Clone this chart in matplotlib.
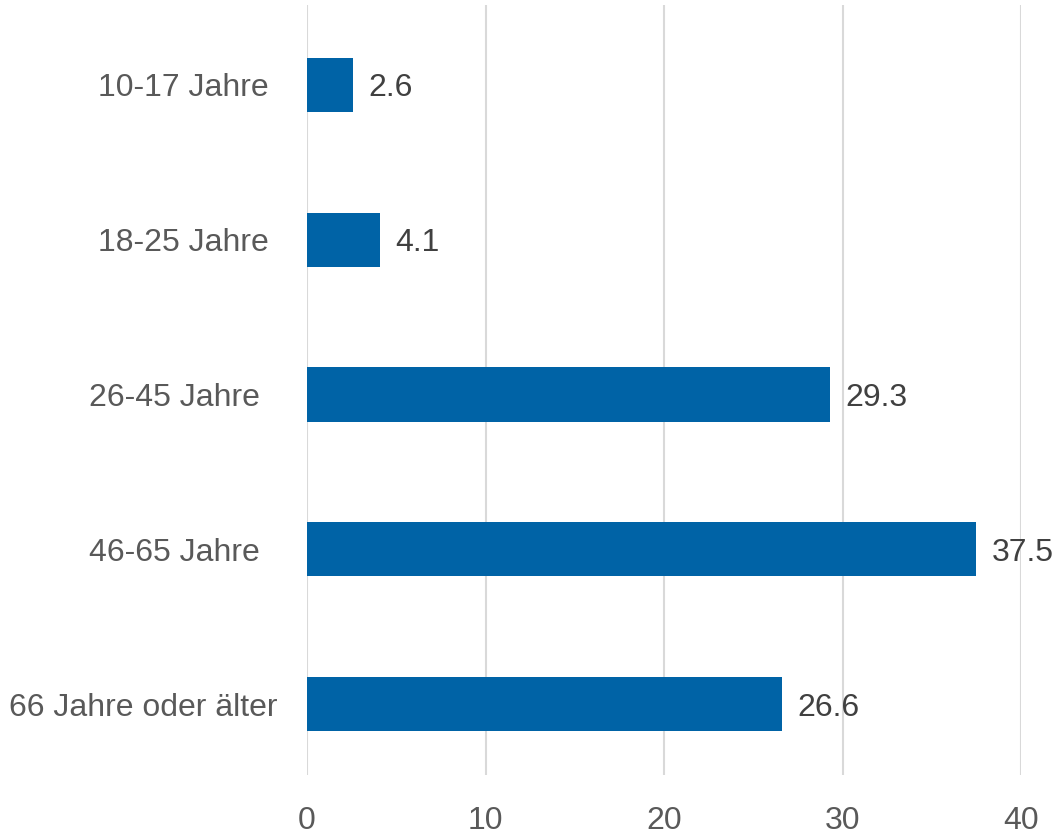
import matplotlib.pyplot as plt

categories = ["10-17 Jahre ", "18-25 Jahre ", "26-45 Jahre  ", "46-65 Jahre  ", "66 Jahre oder älter"]
values = [2.6, 4.1, 29.3, 37.5, 26.6]
xticks = [0, 10, 20, 30, 40]

plt.rcParams['font.family'] = ['Liberation Sans', 'DejaVu Sans']

fig = plt.figure(figsize=(10.58, 8.34), dpi=100)
ax = fig.add_axes([307 / 1058, 1 - 775 / 834, (1021 - 307) / 1058, 770 / 834])

pos = list(range(len(categories)))
ax.barh(pos, values, height=0.35, color='#0063A6', zorder=2)

# datenbeschriftungen
for p, v in zip(pos, values):
    ax.annotate(f"{v}", (v, p), xytext=(11, 0), textcoords='offset points',
                va='center_baseline', ha='left', fontsize=23, color='#404040',
                annotation_clip=False, zorder=3)

ax.set_xlim(0, 40)
ax.set_ylim(4.458, -0.516)
ax.set_xticks(xticks)
ax.set_yticks(pos)
ax.set_yticklabels(categories)

ax.grid(axis='x', color='#D9D9D9', linewidth=1.5, zorder=0)
ax.set_axisbelow(True)
for s in ax.spines.values():
    s.set_visible(False)

ax.tick_params(axis='both', length=0, labelsize=23, labelcolor='#595959')
ax.tick_params(axis='x', pad=22)
ax.tick_params(axis='y', pad=21)

plt.savefig('out.png', dpi=100)
